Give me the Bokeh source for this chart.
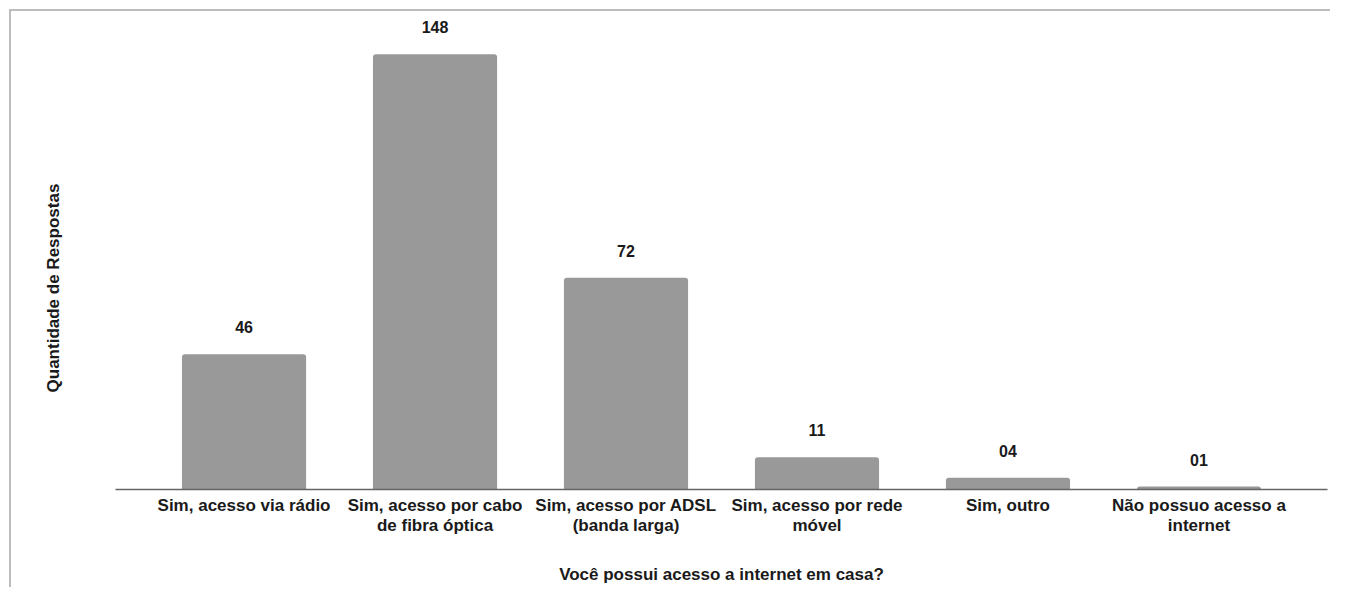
from bokeh.plotting import figure
from bokeh.models import ColumnDataSource, FactorRange, FixedTicker
from bokeh.core.properties import value
from bokeh.embed import file_html
from bokeh.resources import INLINE

categories = [
    "Sim, acesso via rádio",
    "Sim, acesso por cabo\nde fibra óptica",
    "Sim, acesso por ADSL\n(banda larga)",
    "Sim, acesso por rede\nmóvel",
    "Sim, outro",
    "Não possuo acesso a\ninternet",
]
counts = [46, 148, 72, 11, 4, 1]
count_text = ["46", "148", "72", "11", "04", "01"]

FONT = "Liberation Sans"
TXT = "#1a1a1a"

src = ColumnDataSource(dict(x=categories, top=counts, label=count_text))

p = figure(
    width=1330, height=587,
    x_range=FactorRange(factors=categories, range_padding=0.173, range_padding_units="absolute"),
    y_range=(0, 159.5),
    output_backend="svg", toolbar_location=None,
    min_border_left=115, min_border_right=3, min_border_top=20, min_border_bottom=97,
)
# light frame lines on the left and top edges of the chart, drawn by the host
p.styles = {
    "background-color": "white",
    "background-image": "linear-gradient(#bdbdbd, #bdbdbd), linear-gradient(#bdbdbd, #bdbdbd)",
    "background-size": "2px 100%, 100% 2px",
    "background-position": "9px 9px, 9px 9px",
    "background-repeat": "no-repeat",
}
p.outline_line_color = None
p.background_fill_color = "white"
p.border_fill_alpha = 0
p.grid.visible = False

p.vbar(x="x", top="top", width=0.65, source=src, fill_color="#999999",
       line_color=None, border_radius=(3, 3, 0, 0))

p.text(x="x", y="top", text="label", source=src, text_align="center",
       text_baseline="middle", y_offset=-27, text_font=value(FONT),
       text_font_size="16px", text_font_style="bold", text_color=TXT)

xa = p.xaxis[0]
xa.axis_line_color = "#666666"
xa.axis_line_width = 1.5
xa.major_tick_line_color = None
xa.minor_tick_line_color = None
xa.major_tick_out = 0
xa.major_tick_in = 0
xa.major_label_standoff = 6
xa.major_label_text_font = FONT
xa.major_label_text_font_size = "17px"
xa.major_label_text_font_style = "bold"
xa.major_label_text_color = TXT
xa.major_label_text_line_height = 1.1
xa.axis_label = "Você possui acesso a internet em casa?"
xa.axis_label_text_font = FONT
xa.axis_label_text_font_size = "17px"
xa.axis_label_text_font_style = "bold"
xa.axis_label_text_color = TXT
xa.axis_label_standoff = 27

ya = p.yaxis[0]
ya.ticker = FixedTicker(ticks=[])
ya.axis_line_color = None
ya.major_tick_line_color = None
ya.minor_tick_line_color = None
ya.major_tick_out = 0
ya.major_tick_in = 0
ya.minor_tick_out = 0
ya.minor_tick_in = 0
ya.major_label_text_font_size = "0px"
# trailing no-break spaces move the visible title down to the chart's vertical middle
ya.axis_label = "Quantidade de Respostas" + "\u00a0" * 14
ya.axis_label_text_font = FONT
ya.axis_label_text_font_size = "17px"
ya.axis_label_text_font_style = "bold"
ya.axis_label_text_color = TXT
ya.axis_label_standoff = 53

open("out.html", "w").write(file_html(p, INLINE))
